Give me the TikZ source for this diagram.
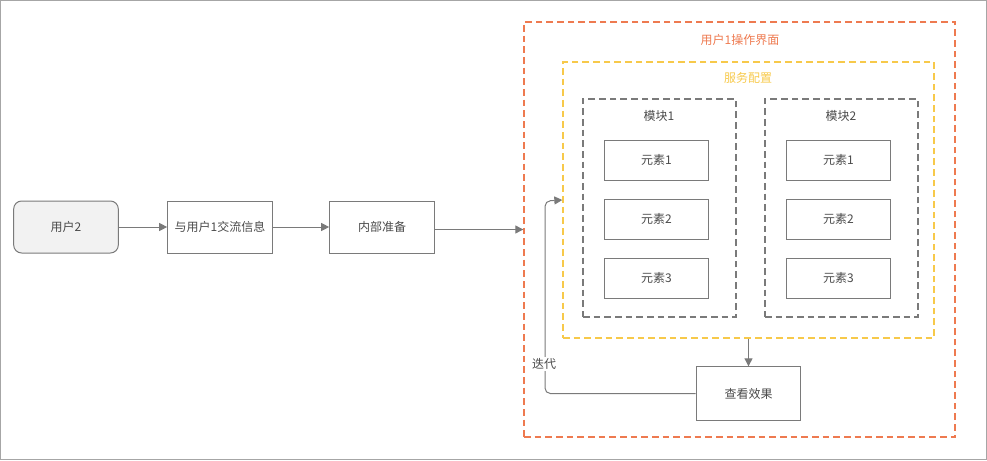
\documentclass[tikz,border=0pt]{standalone}
\usepackage{fontspec}
\setmainfont{Noto Sans CJK SC}
\usepackage{tikz}
\usetikzlibrary{arrows.meta,positioning}
\definecolor{linegray}{HTML}{7A7A7A}
\definecolor{txtgray}{HTML}{4A4A4A}
\definecolor{uiorange}{HTML}{EE7A50}
\definecolor{cfgyellow}{HTML}{F7C94A}
\definecolor{usrfill}{HTML}{F2F2F2}
\tikzset{
  box/.style={draw=linegray, line width=0.75pt, text=txtgray, font=\fontsize{9}{11}\selectfont,
              minimum width=78.5pt, minimum height=39pt, inner sep=0pt},
  elem/.style={box, minimum height=30pt},
  grp/.style={draw=linegray, line width=1pt, dash pattern=on 5pt off 3pt},
  ttl/.style={font=\fontsize{9}{11}\selectfont, text=txtgray},
  arr/.style={draw=linegray, line width=0.75pt, -{Triangle[width=6pt,length=6pt]}}
}
\begin{document}
\begin{tikzpicture}[x=0.75pt,y=-0.75pt]
                    \useasboundingbox (0,0) rectangle (987,460);
                    \draw[gray!70, line width=1pt] (0.5,0.5) rectangle (986.5,459.5);

                    % containers
                    \node[grp, draw=uiorange, minimum width=323.25pt, minimum height=311.25pt] (ui) at (739.5,229.5) {};
                    \node[grp, draw=cfgyellow, minimum width=278.25pt, minimum height=207pt] (cfg) at (748.5,200) {};
                    \node[grp, minimum width=114.75pt, minimum height=163.5pt] (mod1) at (659.5,208) {};
                    \node[grp, minimum width=114.75pt, minimum height=163.5pt] (mod2) at (841.5,208) {};
                    \node[ttl, text=uiorange] (uit) at (740,40) {用户1操作界面};
                    \node[ttl, text=cfgyellow] (cfgt) at (748,78) {服务配置};
                    \node[ttl] (mod1t) at (659,116) {模块1};
                    \node[ttl] (mod2t) at (841,116) {模块2};

                    % flow
                    \node[box, rounded corners=6pt, fill=usrfill] (usr) at (66,227) {用户2};
                    \node[box] (talk) at (220,227) {与用户1交流信息};
                    \node[box] (prep) at (382,227) {内部准备};
                    \node[box, minimum height=40pt] (check) at (748.5,393.5) {查看效果};

                    \foreach \i/\y in {1/160,2/219,3/278} {
                        \node[elem] (a\i) at (656.5,\y) {元素\i};
                        \node[elem] (b\i) at (838.5,\y) {元素\i};
                    }

                    \draw[arr] (usr) -- (talk);
                    \draw[arr] (talk) -- (prep);
                    \draw[arr] (prep.east |- ui.west) -- (ui.west);
                    \draw[arr] (cfg.south) -- (check.north);
                    \coordinate (loop) at (545,201);
                    \draw[arr, rounded corners=4pt] (check.west) -| (loop) -- (cfg.west);
                    \node[ttl, fill=white, inner sep=1pt] (iter) at (544,364) {迭代};
                \end{tikzpicture}
\end{document}
